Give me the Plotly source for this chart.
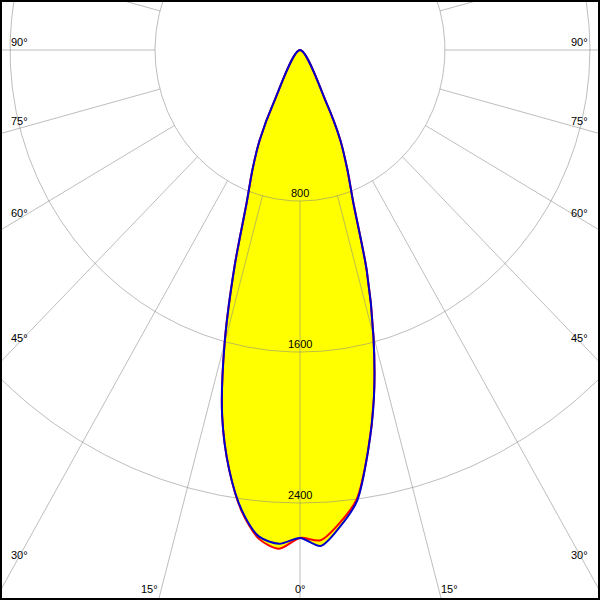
import numpy as np
import plotly.graph_objects as go

# ---------------- data (polar intensity, cd) ----------------
gamma = [0, 2.5, 5, 7.5, 10, 12.5, 15, 17.5, 20, 22.5, 25, 27.5, 30, 40, 50, 60, 70, 80, 90]
# C0 / C180 plane (red curve)
c0 = [2585, 2600, 2515, 2400, 2160, 1885, 1565, 1225, 860, 680, 526, 316, 0, 0, 0, 0, 0, 0, 0]
c180 = [2585, 2645, 2600, 2465, 2255, 1985, 1607, 1200, 860, 685, 526, 316, 0, 0, 0, 0, 0, 0, 0]
# C90 / C270 plane (blue curve)
c90 = [2585, 2630, 2535, 2410, 2160, 1885, 1565, 1225, 860, 680, 526, 316, 0, 0, 0, 0, 0, 0, 0]
c270 = [2585, 2618, 2588, 2460, 2255, 1985, 1607, 1200, 860, 685, 526, 316, 0, 0, 0, 0, 0, 0, 0]

grid_values = [800, 1600, 2400]
grid_labels = ["800", "1600", "2400"]
spoke_angles = list(range(0, 360, 15))
side_label_angles = [90, 75, 60, 45, 30]
bottom_label_angles = [-15, 0, 15]

# ---------------- scales ----------------
SX = 0.1812   # px per cd horizontally
SY = 0.18875  # px per cd vertically
CX, CY = 300, 50  # pixel position of the origin
W = H = 600

xr = [-CX / SX, (W - CX) / SX]
yr = [-(H - CY) / SY, CY / SY]


def outline(left, right):
    g = np.radians(np.array(gamma, dtype=float))
    L = np.array(left, dtype=float)
    R = np.array(right, dtype=float)
    keep = np.ones(len(g), dtype=bool)
    # drop repeated zero points beyond the first zero (they all sit on the origin)
    for arr in (L, R):
        pass
    xl = -L * np.sin(g)
    yl = -L * np.cos(g)
    xrr = R * np.sin(g)
    yrr = -R * np.cos(g)
    # keep only up to first zero on each side
    nl = int(np.argmax(L == 0)) + 1 if np.any(L == 0) else len(L)
    nr = int(np.argmax(R == 0)) + 1 if np.any(R == 0) else len(R)
    x = np.concatenate([xl[:nl][::-1], xrr[1:nr]])
    y = np.concatenate([yl[:nl][::-1], yrr[1:nr]])
    return x, y


red_x, red_y = outline(c180, c0)
blue_x, blue_y = outline(c270, c90)

fig = go.Figure()

# yellow fills
for xx, yy in [(red_x, red_y), (blue_x, blue_y)]:
    fig.add_trace(go.Scatter(x=xx, y=yy, fill="toself", fillcolor="#ffff00",
                             mode="lines", line=dict(width=0, color="#ffff00", shape="spline", smoothing=0.8),
                             hoverinfo="skip"))

# grid circles and spokes
gx, gy = [], []
t = np.radians(np.linspace(0, 360, 721))
for r in grid_values:
    gx += list(r * np.sin(t)) + [None]
    gy += list(-r * np.cos(t)) + [None]
r0 = grid_values[0]
for a in spoke_angles:
    ar = np.radians(a)
    gx += [r0 * np.sin(ar), 8000 * np.sin(ar), None]
    gy += [-r0 * np.cos(ar), -8000 * np.cos(ar), None]
fig.add_trace(go.Scatter(x=gx, y=gy, mode="lines",
                         line=dict(color="rgba(135,135,135,0.55)", width=1),
                         hoverinfo="skip"))

# curves
fig.add_trace(go.Scatter(x=red_x, y=red_y, mode="lines",
                         line=dict(color="#ff0000", width=2, shape="spline", smoothing=0.8),
                         hoverinfo="skip"))
fig.add_trace(go.Scatter(x=blue_x, y=blue_y, mode="lines",
                         line=dict(color="#0000cc", width=2, shape="spline", smoothing=0.8),
                         hoverinfo="skip"))

font = dict(family="Liberation Sans, Arial, sans-serif", size=11, color="black")
ann = []
# radial value labels
for v, lab in zip(grid_values, grid_labels):
    ann.append(dict(x=0, y=-v, text=lab, showarrow=False, xanchor="center",
                    yanchor="bottom", font=font))
# side angle labels
xl_data = (18 - CX) / SX
for a in side_label_angles:
    ar = np.radians(a)
    yv = xl_data * np.cos(ar) / np.sin(ar)  # negative
    shift = 8 * np.sin(ar)
    ann.append(dict(x=(9 - CX) / SX, y=yv, text=f"{a}°", showarrow=False,
                    xanchor="left", yanchor="middle", yshift=shift, font=font))
    ann.append(dict(x=(590 - CX) / SX, y=yv, text=f"{a}°", showarrow=False,
                    xanchor="right", yanchor="middle", yshift=shift, font=font))
# bottom angle labels
yb = -(589 - CY) / SY
for a in bottom_label_angles:
    xv = abs(yb * np.tan(np.radians(a))) * np.sign(a)
    anchor = "center" if a == 0 else ("right" if a < 0 else "left")
    xs = -1 if a < 0 else 0
    ann.append(dict(x=xv, y=yb, text=f"{abs(a)}°", showarrow=False,
                    xanchor=anchor, yanchor="middle", xshift=xs, font=font))

fig.update_layout(
    width=W, height=H,
    margin=dict(l=0, r=0, t=0, b=0),
    paper_bgcolor="white", plot_bgcolor="white",
    showlegend=False, hovermode=False,
    xaxis=dict(range=xr, visible=False, fixedrange=True),
    yaxis=dict(range=yr, visible=False, fixedrange=True),
    annotations=ann,
    shapes=[dict(type="rect", xref="paper", yref="paper", x0=0, y0=0, x1=1, y1=1,
                 line=dict(color="black", width=4))],
)

fig.write_html("out.html", config={"displayModeBar": False},
               post_script="document.body.style.margin='0px';")
